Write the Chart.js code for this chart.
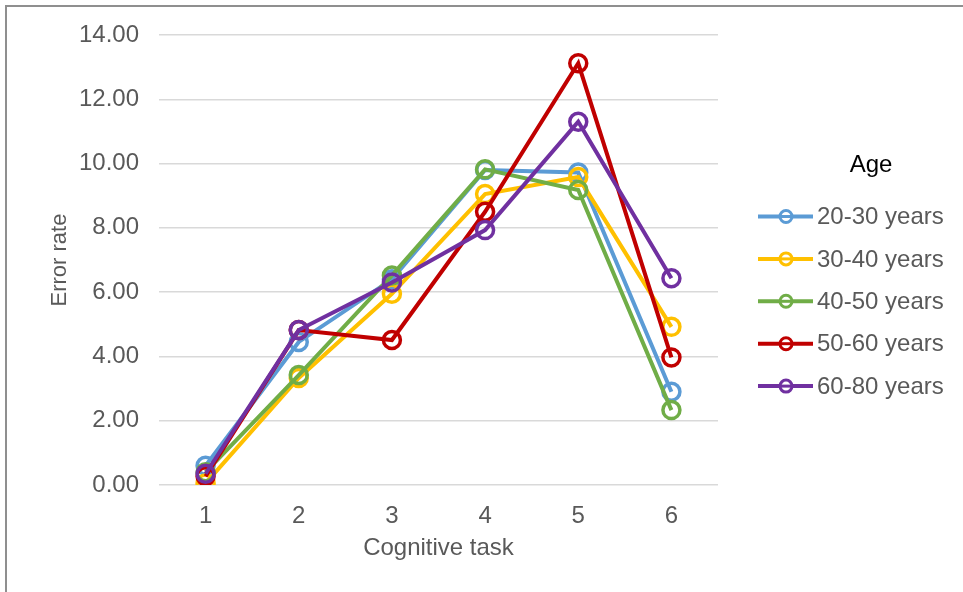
<!DOCTYPE html>
<html>
<head>
<meta charset="utf-8">
<script src="https://cdn.jsdelivr.net/npm/chart.js@4/dist/chart.umd.min.js"></script>
<style>
  html, body { margin: 0; padding: 0; background: #fff; }
  #wrap { position: relative; width: 963px; height: 592px; overflow: hidden; }
  #frame { position: absolute; left: 5px; top: 5px; width: 2000px; height: 2000px;
           border-top: 2px solid #8f8f8f; border-left: 2px solid #8f8f8f; box-sizing: border-box; }
  canvas { position: absolute; left: 0; top: 0; }
</style>
</head>
<body>
<div id="wrap">
  <div id="frame"></div>
  <canvas id="c" width="963" height="592"></canvas>
</div>
<script>
const categories = ['1', '2', '3', '4', '5', '6'];
const seriesNames = ['20-30 years', '30-40 years', '40-50 years', '50-60 years', '60-80 years'];
const age2030 = [0.60, 4.45, 6.40, 9.80, 9.72, 2.90];
const age3040 = [0.05, 3.33, 5.95, 9.05, 9.58, 4.92];
const age4050 = [0.40, 3.42, 6.52, 9.82, 9.18, 2.33];
const age5060 = [0.27, 4.82, 4.51, 8.50, 13.12, 3.97];
const age6080 = [0.35, 4.82, 6.30, 7.93, 11.30, 6.43];
const seriesColors = ['#5B9BD5', '#FFC000', '#70AD47', '#C00000', '#7030A0'];
const legendTitle = 'Age';
const xTitle = 'Cognitive task';
const yTitle = 'Error rate';

const FONT = "'Liberation Sans', Arial, sans-serif";
const allSeries = [age2030, age3040, age4050, age5060, age6080];

const datasets = allSeries.map((vals, i) => ({
  label: seriesNames[i],
  data: vals,
  borderColor: seriesColors[i],
  backgroundColor: 'rgba(0,0,0,0)',
  pointBorderColor: seriesColors[i],
  pointBackgroundColor: 'rgba(0,0,0,0)',
  borderWidth: 4,
  pointRadius: 8.5,
  pointBorderWidth: 3.5,
  pointHoverRadius: 8.5,
  tension: 0,
  order: allSeries.length - i
}));

const customLegend = {
  id: 'customLegend',
  afterDraw(chart) {
    const ctx = chart.ctx;
    ctx.save();
    ctx.textBaseline = 'middle';
    ctx.textAlign = 'center';
    ctx.fillStyle = '#000';
    ctx.font = '24px ' + FONT;
    ctx.fillText(legendTitle, 871, 165);
    const x0 = 758, x1 = 813, cx = 786, y0 = 216.5, dy = 42.4;
    chart.data.datasets.forEach((ds, i) => {
      const y = y0 + i * dy;
      ctx.strokeStyle = ds.borderColor;
      ctx.lineWidth = 4;
      ctx.beginPath(); ctx.moveTo(x0, y); ctx.lineTo(x1, y); ctx.stroke();
      ctx.fillStyle = '#fff';
      ctx.beginPath(); ctx.arc(cx, y, 6, 0, Math.PI * 2); ctx.fill();
      ctx.lineWidth = 3;
      ctx.beginPath(); ctx.arc(cx, y, 6, 0, Math.PI * 2); ctx.stroke();
      ctx.beginPath(); ctx.moveTo(cx - 6, y); ctx.lineTo(cx + 6, y); ctx.stroke();
      ctx.fillStyle = '#595959';
      ctx.textAlign = 'left';
      ctx.font = '24px ' + FONT;
      ctx.fillText(ds.label, 817, y + 1);
    });
    ctx.restore();
  }
};

new Chart(document.getElementById('c'), {
  type: 'line',
  data: { labels: categories, datasets },
  options: {
    responsive: false,
    devicePixelRatio: 1,
    animation: false,
    layout: { padding: { left: 0, top: 35, right: 245, bottom: 0 } },
    plugins: { legend: { display: false }, tooltip: { enabled: false } },
    scales: {
      x: {
        type: 'category',
        offset: true,
        grid: { display: false, drawTicks: false },
        border: { display: false },
        ticks: { color: '#595959', font: { family: FONT, size: 24 }, padding: 17 },
        title: { display: true, text: xTitle, color: '#595959', font: { family: FONT, size: 24 }, padding: { top: 0, bottom: 29 } },
        afterFit(scale) { scale.height = 107; }
      },
      y: {
        min: 0, max: 14,
        grid: { color: '#d9d9d9', lineWidth: 1.5, drawTicks: false },
        border: { display: false },
        ticks: { stepSize: 2, color: '#595959', font: { family: FONT, size: 24 }, padding: 20,
                 callback: v => Number(v).toFixed(2) },
        title: { display: true, text: yTitle, color: '#595959', font: { family: FONT, size: 22 }, padding: { top: 47, bottom: 0 } },
        afterFit(scale) { scale.width = 159; }
      }
    }
  },
  plugins: [customLegend]
});
</script>
</body>
</html>
